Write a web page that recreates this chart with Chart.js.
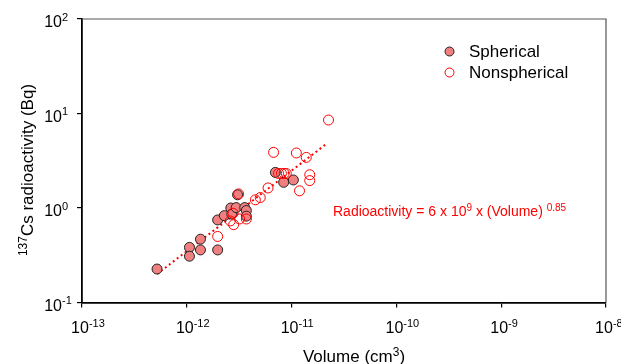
<!DOCTYPE html>
<html>
<head>
<meta charset="utf-8">
<script src="https://cdn.jsdelivr.net/npm/chart.js@4/dist/chart.umd.min.js"></script>
<style>
  body { margin: 0; background: #fff; }
  #chart { display: block; }
</style>
</head>
<body>
<canvas id="chart" width="621" height="364"></canvas>
<script>
// values (volume in cm3, activity in Bq)
var sphericalVolume = [5.2e-13, 1.06e-12, 1.06e-12, 1.35e-12, 1.35e-12, 1.97e-12, 1.97e-12, 2.28e-12, 2.63e-12,
                       2.69e-12, 2.96e-12, 3.05e-12, 3.57e-12, 3.70e-12, 3.70e-12, 7.0e-12, 8.4e-12, 1.04e-11];
var sphericalActivity = [0.226, 0.383, 0.309, 0.468, 0.36, 0.36, 0.748, 0.83, 1.0,
                         0.86, 1.01, 1.38, 1.01, 0.94, 0.82, 2.38, 1.87, 1.98];
var nonsphericalVolume = [2.25e-11, 6.73e-12, 1.11e-11, 1.38e-11, 1.49e-11, 1.49e-11, 1.19e-11, 7.5e-12, 8.0e-12,
                          8.5e-12, 8.9e-12, 5.96e-12, 5.02e-12, 4.51e-12, 3.12e-12, 2.76e-12, 3.19e-12, 2.80e-12,
                          3.70e-12, 2.60e-12, 1.97e-12];
var nonsphericalActivity = [8.53, 3.88, 3.82, 3.43, 2.25, 1.95, 1.52, 2.32, 2.32,
                            2.32, 2.32, 1.63, 1.29, 1.22, 1.41, 0.88, 0.765, 0.666,
                            0.765, 0.73, 0.50];
var fitVolume = [5.2e-13, 2.18e-11];
var fitActivity = [0.20, 4.83];
var xTickValues = [1e-13, 1e-12, 1e-11, 1e-10, 1e-9, 1e-8];
var xTickExp = ["-13", "-12", "-11", "-10", "-9", "-8"];
var yTickValues = [0.1, 1, 10, 100];
var yTickExp = ["-1", "0", "1", "2"];

function toPoints(xs, ys) {
  return xs.map(function(x, i) { return { x: x, y: ys[i] }; });
}

var FONT = "'Liberation Sans', Arial, sans-serif";

// draw text made of [text, isSuperscript] parts
function drawParts(ctx, parts, x, y, size, align) {
  var sup = Math.round(size * 0.7);
  var w = 0;
  parts.forEach(function(p) {
    ctx.font = (p[1] ? sup : size) + "px " + FONT;
    w += ctx.measureText(p[0]).width;
  });
  var cx = align === "right" ? x - w : align === "center" ? x - w / 2 : x;
  parts.forEach(function(p) {
    ctx.font = (p[1] ? sup : size) + "px " + FONT;
    ctx.fillText(p[0], cx, p[1] ? y - size * 0.38 : y);
    cx += ctx.measureText(p[0]).width;
  });
}

var decorations = {
  id: "decorations",
  afterDraw: function(chart) {
    var ctx = chart.ctx, a = chart.chartArea;
    var xs = chart.scales.x, ys = chart.scales.y;
    ctx.save();

    // top and right frame
    ctx.strokeStyle = "#555";
    ctx.lineWidth = 1.2;
    ctx.beginPath();
    ctx.moveTo(a.left, a.top);
    ctx.lineTo(a.right, a.top);
    ctx.lineTo(a.right, a.bottom);
    ctx.stroke();

    ctx.fillStyle = "#000";
    ctx.textBaseline = "alphabetic";
    ctx.font = "16px " + FONT;
    var w10 = ctx.measureText("10").width;

    // x tick labels: "10" roughly centred on the tick, exponent hanging right
    xTickValues.forEach(function(v, i) {
      var px = xs.getPixelForValue(v);
      drawParts(ctx, [["10", false], [xTickExp[i], true]], px - w10 / 2 - 2, 333, 16, "left");
    });

    // y tick labels: "10" ends at a fixed x, exponent follows
    yTickValues.forEach(function(v, i) {
      var py = ys.getPixelForValue(v);
      drawParts(ctx, [["10", false], [yTickExp[i], true]], 62 - w10, py + 8, 16, "left");
    });

    // axis titles
    drawParts(ctx, [["Volume (cm", false], ["3", true], [")", false]], 354, 362, 17, "center");
    ctx.save();
    ctx.translate(33, 170);
    ctx.rotate(-Math.PI / 2);
    drawParts(ctx, [["137", true], ["Cs radioactivity (Bq)", false]], 0, 0, 17, "center");
    ctx.restore();

    // legend
    var ds = chart.data.datasets;
    ctx.lineWidth = 1;
    ctx.beginPath();
    ctx.arc(449.5, 51.5, 4.5, 0, Math.PI * 2);
    ctx.fillStyle = ds[1].backgroundColor;
    ctx.fill();
    ctx.strokeStyle = ds[1].borderColor;
    ctx.stroke();
    ctx.beginPath();
    ctx.arc(449.5, 72.5, 4.5, 0, Math.PI * 2);
    ctx.fillStyle = "#fff";
    ctx.fill();
    ctx.strokeStyle = ds[0].borderColor;
    ctx.stroke();
    ctx.fillStyle = "#000";
    ctx.font = "17px " + FONT;
    ctx.textBaseline = "middle";
    ctx.fillText(ds[1].label, 469, 52);
    ctx.fillText(ds[0].label, 469, 73);

    // fit equation
    ctx.textBaseline = "alphabetic";
    ctx.fillStyle = "#ff0000";
    drawParts(ctx, [["Radioactivity = 6 x 10", false], ["9", true], [" x (Volume) ", false], ["0.85", true]],
              333, 216, 14, "left");
    ctx.restore();
  }
};

var axisCommon = {
  type: "logarithmic",
  ticks: { display: false },
  grid: { drawOnChartArea: false, drawTicks: true, tickLength: 5, color: "#000", lineWidth: 1.2 },
  border: { display: true, color: "#000", width: 1.8 }
};

new Chart(document.getElementById("chart").getContext("2d"), {
  type: "scatter",
  data: {
    datasets: [
      {
        label: "Nonspherical",
        data: toPoints(nonsphericalVolume, nonsphericalActivity),
        backgroundColor: "rgba(255,255,255,0)",
        borderColor: "#ff0000",
        borderWidth: 1,
        pointRadius: 5,
        order: 0
      },
      {
        label: "Spherical",
        data: toPoints(sphericalVolume, sphericalActivity),
        backgroundColor: "#f08080",
        borderColor: "#222",
        borderWidth: 1,
        pointRadius: 5,
        order: 1
      },
      {
        label: "fit",
        type: "line",
        data: toPoints(fitVolume, fitActivity),
        borderColor: "#ff0000",
        borderWidth: 2,
        borderDash: [2, 3],
        pointRadius: 0,
        fill: false,
        order: 2
      }
    ]
  },
  options: {
    responsive: false,
    animation: false,
    layout: { padding: { top: 19, right: 15, left: 0, bottom: 0 } },
    plugins: { legend: { display: false }, tooltip: { enabled: false } },
    scales: {
      x: Object.assign({}, axisCommon, {
        min: 1e-13, max: 1e-8,
        afterBuildTicks: function(s) { s.ticks = xTickValues.map(function(v) { return { value: v }; }); },
        afterFit: function(s) { s.height = 61.5; }
      }),
      y: Object.assign({}, axisCommon, {
        min: 0.1, max: 100,
        afterBuildTicks: function(s) { s.ticks = yTickValues.map(function(v) { return { value: v }; }); },
        afterFit: function(s) { s.width = 82; }
      })
    }
  },
  plugins: [decorations]
});
</script>
</body>
</html>
